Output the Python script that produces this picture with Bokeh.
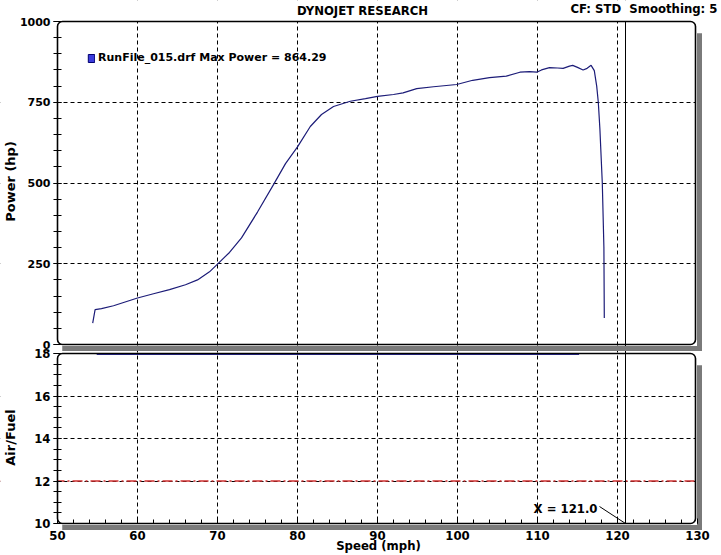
import math
from bokeh.plotting import figure
from bokeh.models import (Range1d, SingleIntervalTicker, FixedTicker, Span, Label,
                          Legend, LegendItem, BoxAnnotation, LinearAxis, Grid)
from bokeh.embed import file_html
from bokeh.resources import INLINE

# ---------------- data ----------------
speed = [54.4, 54.7, 55.5, 57.0, 60.0, 62.0, 64.0, 66.0, 67.5, 69.0, 70.0,
         71.5, 73.0, 75.0, 77.0, 78.5, 80.0, 81.6, 83.0, 84.5, 86.6, 88.5,
         90.0, 92.0, 93.2, 94.9, 97.0, 99.9, 101.9, 104.0, 106.1, 107.8,
         109.0, 109.9, 110.5, 111.5, 112.5, 113.2, 114.0, 114.4, 115.0,
         115.7, 116.2, 116.7, 117.1, 117.4, 117.6, 117.8, 118.1, 118.3, 118.35]
power = [66, 108, 111, 120, 144, 157, 170, 185, 200, 225, 249,
         285, 330, 410, 495, 560, 612, 675, 712, 737, 753, 761,
         768, 774, 779, 792, 798, 805, 818, 826, 831, 843,
         845, 843, 850, 857, 856, 855, 862, 864, 858,
         850, 855, 864.29, 848, 800, 750, 667, 500, 300, 82]
max_power_speed = [116.7]
max_power = [864.29]

afr_speed = [54.9, 115.2]
afr = [17.96, 17.96]
afr_reference = 12.0
cursor_x = 121.0

speed_min, speed_max, speed_step = 50, 130, 10
power_min, power_max, power_step = 0, 1000, 250
afr_min, afr_max, afr_step = 10, 18, 2

title_text = "DYNOJET RESEARCH"
info_text = "CF: STD\u00a0 Smoothing: 5"
run_label = "RunFile_015.drf Max Power = 864.29"
cursor_text = "X = 121.0"
x_title = "Speed (mph)"
power_title = "Power (hp)"
afr_title = "Air/Fuel"

# ---------------- layout geometry (pixels) ----------------
W, H = 721, 555
PX_X50 = 57.0
PX_PER_MPH = 8.0
PX_P0, PX_P1000 = 344.0, 21.0
PX_A18, PX_A10 = 353.0, 523.0
PX_PANEL_R = 695.0
SH0, SH1 = 1.5, 6.5  # shadow band, pixels outside the panel edge

x_start = speed_min - PX_X50 / PX_PER_MPH
x_end = x_start + W / PX_PER_MPH
hp_px = (power_max - power_min) / (PX_P0 - PX_P1000)
p_end = power_max + PX_P1000 * hp_px
p_start = p_end - H * hp_px
afr_px = (afr_max - afr_min) / (PX_A10 - PX_A18)
a_end = afr_max + PX_A18 * afr_px
a_start = a_end - H * afr_px


def X(px):
    return x_start + px / PX_PER_MPH


def P(py):
    return p_end - py * hp_px


def A(py):
    return a_end - py * afr_px


PANEL_R = X(PX_PANEL_R)

COND = "DejaVu Sans Condensed"
WIDE = "DejaVu Sans"
LINE_COLOR = "#1c1c78"
SHADOW = "#7a7a7a"

p = figure(width=W, height=H, x_range=Range1d(x_start, x_end),
           y_range=Range1d(p_start, p_end),
           x_axis_location=None, y_axis_location=None,
           output_backend="svg", toolbar_location=None,
           min_border=0, background_fill_color="white",
           border_fill_color="white")
p.extra_y_ranges = {"afr": Range1d(a_start, a_end)}
p.outline_line_color = None
p.grid.visible = False

# ---------------- grids ----------------
grid_style = dict(grid_line_color="black", grid_line_dash="4 3", grid_line_width=1,
                  level="underlay")
p.add_layout(Grid(dimension=0, ticker=FixedTicker(
    ticks=list(range(speed_min + speed_step, speed_max, speed_step))), **grid_style))
p.add_layout(Grid(dimension=1, ticker=FixedTicker(
    ticks=list(range(power_min + power_step, power_max, power_step))), **grid_style))
p.add_layout(Grid(dimension=1, y_range_name="afr", ticker=FixedTicker(
    ticks=list(range(afr_min + afr_step, afr_max, afr_step))), **grid_style))

# reference lines
p.add_layout(Span(location=afr_reference, dimension="width", y_range_name="afr",
                  line_color="#d03030", line_width=1.3, line_dash="10 3 2 3",
                  level="underlay"))
p.add_layout(Span(location=cursor_x, dimension="height", line_color="black",
                  line_width=1, level="underlay"))

# white masks outside the two panels
mask = dict(fill_color="white", fill_alpha=1, line_color=None, line_alpha=0,
            level="underlay")
p.add_layout(BoxAnnotation(bottom=power_max, **mask))
p.add_layout(BoxAnnotation(left=PANEL_R, **mask))
p.add_layout(BoxAnnotation(right=speed_min, **mask))
p.add_layout(BoxAnnotation(top=afr_min, y_range_name="afr", **mask))

# drop shadows, same pipeline as the masks, added after them
shadow = dict(fill_color=SHADOW, fill_alpha=1, line_color=None, line_alpha=0,
              level="underlay")
p.add_layout(BoxAnnotation(left=X(PX_PANEL_R + SH0), right=X(PX_PANEL_R + SH1),
                           top=P(PX_P1000 + 12), bottom=P(PX_P0 + SH1), **shadow))
p.add_layout(BoxAnnotation(left=X(PX_X50 + 5), right=X(PX_PANEL_R + SH1),
                           top=P(PX_P0 + SH0), bottom=P(PX_P0 + SH1), **shadow))
p.add_layout(BoxAnnotation(left=X(PX_PANEL_R + SH0), right=X(PX_PANEL_R + SH1),
                           top=A(PX_A18 + 12), bottom=A(PX_A10 + SH1),
                           y_range_name="afr", **shadow))
p.add_layout(BoxAnnotation(left=X(PX_X50 + 5), right=X(PX_PANEL_R + SH1),
                           top=A(PX_A10 + SH0), bottom=A(PX_A10 + SH1),
                           y_range_name="afr", **shadow))

# panel outlines (rounded)
frame = dict(fill_alpha=0, line_color="black", line_alpha=1, line_width=1.6,
             level="glyph", border_radius=5)
p.add_layout(BoxAnnotation(left=speed_min, right=PANEL_R, bottom=power_min,
                           top=power_max, **frame))
p.add_layout(BoxAnnotation(left=speed_min, right=PANEL_R, bottom=afr_min,
                           top=afr_max, y_range_name="afr", **frame))

# same shadows as thick strokes (glyph level)
mid = (SH0 + SH1) / 2
band = SH1 - SH0
p.multi_line(xs=[[X(PX_PANEL_R + mid)] * 2, [X(PX_X50 + 5), X(PX_PANEL_R + SH1)]],
             ys=[[P(PX_P1000 + 12), P(PX_P0 + SH1)], [P(PX_P0 + mid)] * 2],
             line_color=SHADOW, line_width=band)
p.multi_line(xs=[[X(PX_PANEL_R + mid)] * 2, [X(PX_X50 + 5), X(PX_PANEL_R + SH1)]],
             ys=[[A(PX_A18 + 12), A(PX_A10 + SH1)], [A(PX_A10 + mid)] * 2],
             y_range_name="afr", line_color=SHADOW, line_width=band)

# ---------------- data lines ----------------
p.line(speed, power, line_color=LINE_COLOR, line_width=1.2)
p.line(afr_speed, afr, y_range_name="afr", line_color="#2a2a9a", line_width=1.2)

# marker for the legend swatch (zero-size box at the max-power point)
peak = p.quad(left=max_power_speed, right=max_power_speed, top=max_power,
              bottom=max_power, fill_color="#3c3cdc", line_color="#000070",
              line_width=1)

# cursor annotation
p.segment(x0=[cursor_x - 26 / PX_PER_MPH], y0=[afr_min + 17 * afr_px],
          x1=[cursor_x], y1=[afr_min], y_range_name="afr",
          line_color="black", line_width=1)

# ---------------- axes ----------------
pax = LinearAxis(fixed_location=speed_min, bounds=(power_min, power_max),
                 ticker=SingleIntervalTicker(interval=power_step, num_minor_ticks=5))
aax = LinearAxis(y_range_name="afr", fixed_location=speed_min, bounds=(afr_min, afr_max),
                 ticker=SingleIntervalTicker(interval=afr_step, num_minor_ticks=4))
for ax, font, size in ((pax, WIDE, "11px"), (aax, COND, "13px")):
    ax.axis_line_color = None
    ax.major_tick_in = 4
    ax.major_tick_out = 4
    ax.minor_tick_in = 4
    ax.minor_tick_out = 4
    ax.major_tick_line_color = "black"
    ax.minor_tick_line_color = "black"
    ax.major_label_text_font = font
    ax.major_label_text_font_style = "bold"
    ax.major_label_text_font_size = size
    ax.major_label_text_color = "black"
    ax.major_label_standoff = 3
    p.add_layout(ax, "left")

xax = LinearAxis(y_range_name="afr", fixed_location=afr_min, bounds=(speed_min, speed_max),
                 ticker=SingleIntervalTicker(interval=speed_step, num_minor_ticks=5))
xax.axis_line_color = None
xax.major_tick_in = 5
xax.major_tick_out = 0
xax.minor_tick_in = 4
xax.minor_tick_out = 0
xax.major_tick_line_color = "black"
xax.minor_tick_line_color = "black"
xax.major_label_text_font = COND
xax.major_label_text_font_style = "bold"
xax.major_label_text_font_size = "13px"
xax.major_label_text_color = "black"
xax.major_label_standoff = 7
p.add_layout(xax, "below")

# ---------------- texts ----------------
def add_text(txt, px, py, align="center", font=COND, size="13px", angle=0.0):
    p.add_layout(Label(x=X(px), y=P(py), text=txt, text_align=align,
                       text_baseline="middle", text_font=font,
                       text_font_style="bold", text_font_size=size,
                       text_color="black", angle=angle))


add_text(title_text, 362, 10)
add_text(info_text, 717, 8, align="right")
add_text(power_title, 10, 181, font=WIDE, size="13px", angle=math.pi / 2)
add_text(afr_title, 10, 437, font=WIDE, size="13px", angle=math.pi / 2)
add_text(x_title, 378, 545)
add_text(cursor_text, 597, 508, align="right")

# ---------------- legend ----------------
legend = Legend(items=[LegendItem(label=run_label, renderers=[peak])],
                location=(87, 491), margin=0, padding=0, spacing=0,
                border_line_color=None, background_fill_alpha=0,
                glyph_width=8, glyph_height=10, label_standoff=3,
                label_text_font=WIDE, label_text_font_style="bold",
                label_text_font_size="11px", label_text_color="black")
p.add_layout(legend)

open("out.html", "w").write(file_html(p, INLINE))
